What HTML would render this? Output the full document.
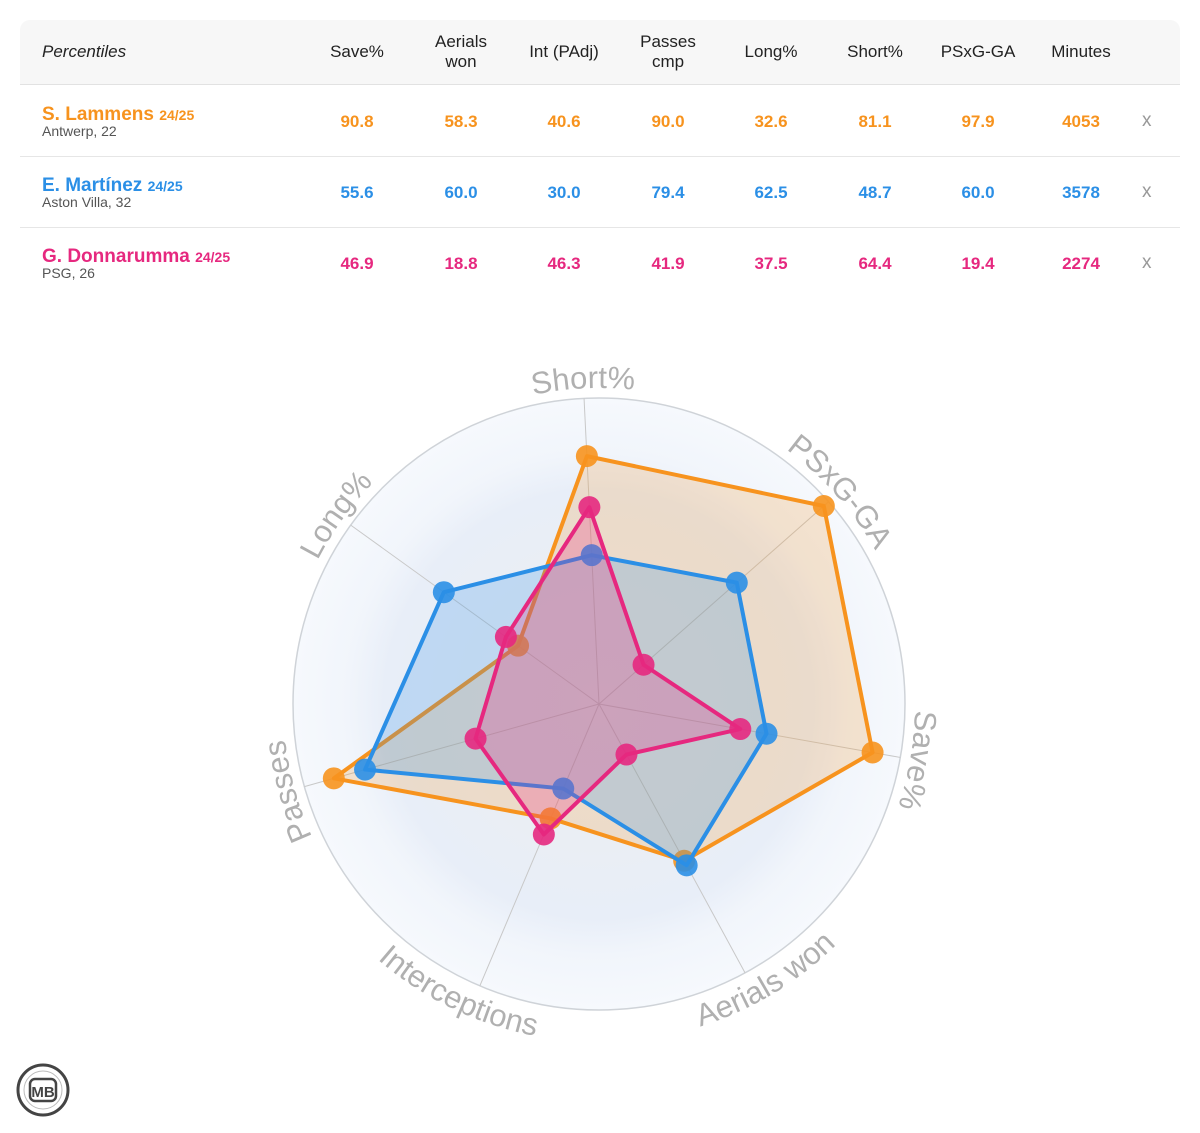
<!DOCTYPE html>
<html><head><meta charset="utf-8">
<style>
body{margin:0;width:1200px;height:1133px;background:#fff;font-family:"Liberation Sans",Arial,sans-serif;position:relative;overflow:hidden}
#tbl{position:absolute;left:20px;top:20px;width:1160px}
.hdr{position:absolute;left:0;top:0;width:1160px;height:64px;background:#f7f7f7;border-radius:10px 10px 0 0;border-bottom:1px solid #e2e2e2}
.h{position:absolute;top:0;height:64px;display:flex;align-items:center;justify-content:center;text-align:center;font-size:17px;color:#222;line-height:20px;width:100px;margin-left:-50px}
.row{position:absolute;left:0;width:1160px;height:71px;border-bottom:1px solid #e6e6e6}
.row.last{border-bottom:none}
.nm{position:absolute;left:22px;top:19px;font-weight:bold;font-size:19px}
.nm small{font-size:14px}
.club{position:absolute;left:22px;top:38px;font-size:14px;color:#555}
.v{position:absolute;top:27px;width:100px;margin-left:-50px;text-align:center;font-weight:bold;font-size:17px}
.x{position:absolute;top:25px;left:1122px;font-size:19px;color:#999}
</style></head><body>
<div id="tbl">
 <div class="hdr">
  <div style="position:absolute;left:22px;top:22px;font-size:17px;font-style:italic;color:#222">Percentiles</div>
  <div class="h" style="left:337px">Save%</div>
  <div class="h" style="left:441px">Aerials<br>won</div>
  <div class="h" style="left:544px">Int (PAdj)</div>
  <div class="h" style="left:648px">Passes<br>cmp</div>
  <div class="h" style="left:751px">Long%</div>
  <div class="h" style="left:855px">Short%</div>
  <div class="h" style="left:958px">PSxG-GA</div>
  <div class="h" style="left:1061px">Minutes</div>
 </div>
 <div id="rows"></div>
</div>
<svg id="radar" width="1200" height="1133" style="position:absolute;left:0;top:0" xmlns="http://www.w3.org/2000/svg">
 <defs>
  <radialGradient id="bg" cx="50%" cy="50%" r="50%">
   <stop offset="0" stop-color="#eef0f3"/>
   <stop offset="0.45" stop-color="#eaeef4"/>
   <stop offset="0.7" stop-color="#e8eef8"/>
   <stop offset="0.82" stop-color="#f1f5fb"/>
   <stop offset="1" stop-color="#f6f9fd"/>
  </radialGradient>
 </defs>
 <g id="grid"></g><g id="series"></g><g id="labels"></g>
</svg>
<svg width="60" height="60" style="position:absolute;left:13px;top:1060px">
 <circle cx="30" cy="30" r="25" fill="#fff" stroke="#444" stroke-width="3"/>
 <circle cx="30" cy="30" r="19" fill="none" stroke="#bbb" stroke-width="1"/>
 <rect x="17" y="19" width="26" height="22" rx="5" fill="#fff" stroke="#444" stroke-width="2.5"/>
 <text x="30" y="37" text-anchor="middle" font-family="Liberation Sans" font-weight="bold" font-size="15" fill="#444">MB</text>
</svg>
<script>
const tableCols = [357,461,564,668,771,875,978,1081];
const players = ["S. Lammens","E. Martínez","G. Donnarumma"];
const clubs = ["Antwerp, 22","Aston Villa, 32","PSG, 26"];
const colors = ["#f7931e","#2b8fe6","#e6287f"];
const saveVals = [90.8,55.6,46.9];
const aerialVals = [58.3,60.0,18.8];
const intVals = [40.6,30.0,46.3];
const passVals = [90.0,79.4,41.9];
const longVals = [32.6,62.5,37.5];
const shortVals = [81.1,48.7,64.4];
const psxgVals = [97.9,60.0,19.4];
const minutes = [4053,3578,2274];
const axisLabels = ["Short%","PSxG-GA","Save%","Aerials won","Interceptions","Passes","Long%"];

const rows = document.getElementById('rows');
players.forEach((p,i)=>{
  const r = document.createElement('div');
  r.className='row'+(i===players.length-1?' last':''); r.style.top=(65+i*71)+'px';
  
  
  let h = `<div class="nm" style="color:${colors[i]}">${p} <small>24/25</small></div><div class="club">${clubs[i]}</div>`;
  const vals=[saveVals[i].toFixed(1),aerialVals[i].toFixed(1),intVals[i].toFixed(1),passVals[i].toFixed(1),longVals[i].toFixed(1),shortVals[i].toFixed(1),psxgVals[i].toFixed(1),minutes[i]];
  vals.forEach((v,j)=>{h+=`<div class="v" style="left:${tableCols[j]-20}px;color:${colors[i]}">${v}</div>`;});
  h+=`<div class="x">x</div>`;
  r.innerHTML=h; rows.appendChild(r);
});

const NS='http://www.w3.org/2000/svg';
const cx=599, cy=704, R=306, a0=-2.8, step=360/7;
function ang(k){return (a0+k*step)*Math.PI/180;}
function pt(k,v){const a=ang(k),r=R*v/100;return [cx+r*Math.sin(a),cy-r*Math.cos(a)];}
function el(t,at,parent){const e=document.createElementNS(NS,t);for(const k in at)e.setAttribute(k,at[k]);parent.appendChild(e);return e;}
const grid=document.getElementById('grid');
const bgc=el('circle',{cx,cy,r:R,fill:'url(#bg)',stroke:'#cfd3d8','stroke-width':1.5},grid);


for(let k=0;k<7;k++){const [x,y]=pt(k,100);
 const l=el('line',{x1:cx,y1:cy,x2:x,y2:y,stroke:'#c8c8c8','stroke-width':1},grid);
 
 }
const series=document.getElementById('series');
const fills=['rgba(247,147,30,0.2)','rgba(43,143,230,0.22)','rgba(230,40,127,0.25)'];
players.forEach((p,i)=>{
  const vals=[shortVals[i],psxgVals[i],saveVals[i],aerialVals[i],intVals[i],passVals[i],longVals[i]];
  const pts=vals.map((v,k)=>pt(k,v));
  const pg=el('polygon',{points:pts.map(q=>q.join(',')).join(' '),fill:fills[i],stroke:colors[i],'stroke-width':4,'stroke-linejoin':'round'},series);
  
  
  pts.forEach(q=>{const c=el('circle',{cx:q[0],cy:q[1],r:11,fill:colors[i],'fill-opacity':0.9},series);
   
   });
});
const labels=document.getElementById('labels');
const defs=document.querySelector('defs');
axisLabels.forEach((t,k)=>{
  let a=a0+k*step; const bottom=(a>120&&a<240);
  if(bottom) a+= (a<180?-2.5:3);
  const r=bottom?338:316; const s=(a-40)*Math.PI/180,e=(a+40)*Math.PI/180;
  const P=th=>[cx+r*Math.sin(th),cy-r*Math.cos(th)];
  let d;
  if(!bottom){const A=P(s),B=P(e);d=`M${A[0]},${A[1]} A${r},${r} 0 0 1 ${B[0]},${B[1]}`;}
  else{const A=P(e),B=P(s);d=`M${A[0]},${A[1]} A${r},${r} 0 0 0 ${B[0]},${B[1]}`;}
  el('path',{id:'lp'+k,d,fill:'none'},defs);
  const tx=el('text',{'font-size':31,fill:'#b0b0b0','font-family':'Liberation Sans','text-anchor':'middle'},labels);
  
  
  const tp=el('textPath',{href:'#lp'+k,startOffset:'50%'},tx);tp.textContent=t;
});
</script>
</body></html>
